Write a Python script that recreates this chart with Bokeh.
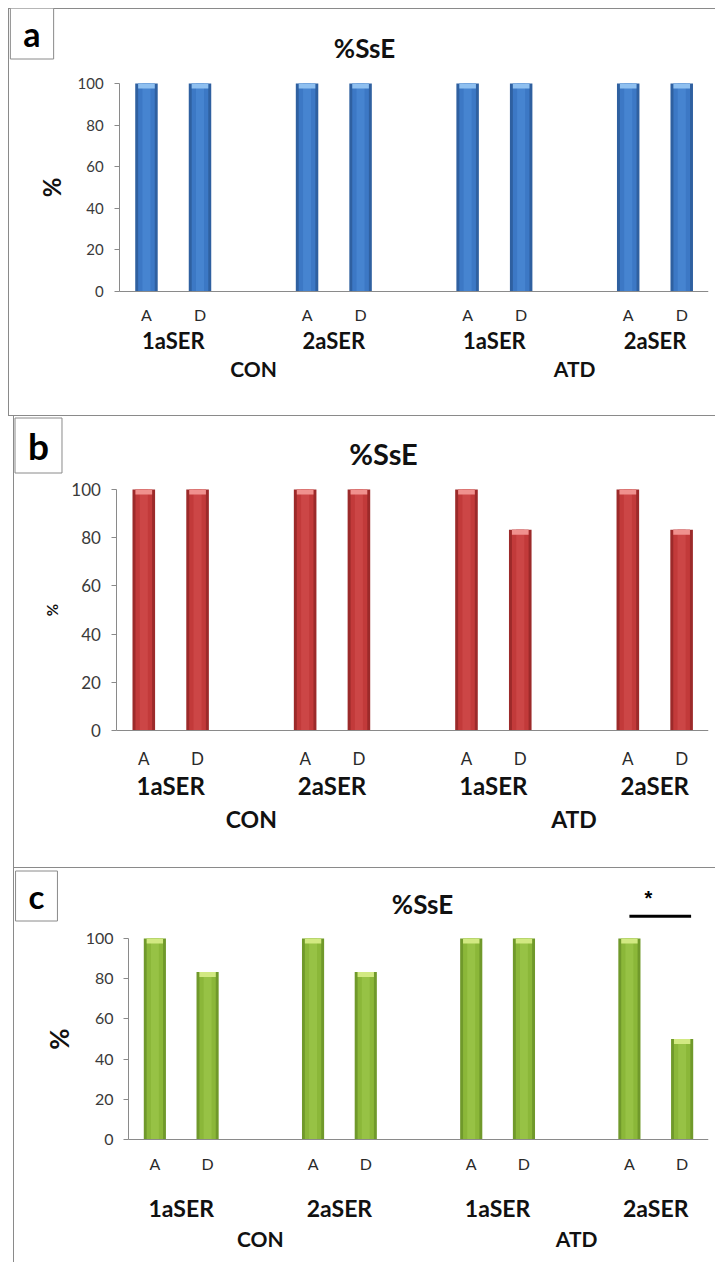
from bokeh.plotting import figure
from bokeh.models import Range1d, LinearAxis, FixedTicker, Label, ColumnDataSource
from bokeh.layouts import column
from bokeh.embed import file_html
from bokeh.resources import INLINE

# ---------------- data ----------------
treatments = ["CON", "ATD"]
receptors = ["1aSER", "2aSER"]
phases = ["A", "D"]
ssE_a = [100, 100, 100, 100, 100, 100, 100, 100]
ssE_b = [100, 100, 100, 100, 100, 83.3, 100, 83.3]
ssE_c = [100, 83.3, 100, 83.3, 100, 100, 100, 50]
y_ticks = [0, 20, 40, 60, 80, 100]
panel_letters = ["a", "b", "c"]
chart_title = "%SsE"
y_label = "%"
sig_pair = [("ATD", "2aSER", "A"), ("ATD", "2aSER", "D")]
sig_mark = "*"

FONT = "Lato"
GREY = "#8a8a8a"

# categorical layout: one slot per bar, one empty slot after every receptor group
factors, xpos = [], []
slot = 0.5
rec_pos, rec_lab, trt_pos, trt_lab = [], [], [], []
for t in treatments:
    t_members = []
    for r in receptors:
        r_members = []
        for ph in phases:
            factors.append((t, r, ph))
            xpos.append(slot)
            r_members.append(slot)
            slot += 1
        slot += 1
        rec_pos.append(sum(r_members) / len(r_members))
        rec_lab.append(r)
        t_members += r_members
    trt_pos.append((t_members[0] + t_members[-1]) / 2)
    trt_lab.append(t)
x_end = xpos[-1] + 0.5
phase_lab = [f[2] for f in factors]

blue = dict(edge="#2f60a0", body="#3c78c5", hl="#4684d0", cap="#8fc0f0")
red = dict(edge="#9c2a2a", body="#c23a3a", hl="#cc4646", cap="#f0918e")
green = dict(edge="#70992b", body="#8bb739", hl="#97c245", cap="#d2e982")


def label_axis(ticks, labels, standoff, size, bold, line=False):
    ax = LinearAxis(ticker=FixedTicker(ticks=ticks),
                    major_label_overrides={float(k): v for k, v in zip(ticks, labels)},
                    bounds=(0, x_end), fixed_location=0,
                    axis_line_color=GREY if line else None,
                    major_tick_line_color=None, minor_tick_line_color=None,
                    major_tick_out=0, major_tick_in=0,
                    major_label_standoff=standoff,
                    major_label_text_font=FONT,
                    major_label_text_font_size=size,
                    major_label_text_font_style="bold" if bold else "normal",
                    major_label_text_color="#111111" if bold else "#2a2a2a")
    return ax


def make_panel(vals, col, letter, g, sig=False):
    ppx = (g["width"] - g["axis_x"] - g["mr"]) / x_end   # pixels per slot
    ppu = g["ppu"]
    xr = Range1d(-g["axis_x"] / ppx, x_end)
    yr = Range1d(-g["below"] / ppu, g["y_end"])
    p = figure(x_range=xr, y_range=yr, width=g["width"], height=g["height"],
               output_backend="svg", toolbar_location=None, x_axis_location=None,
               min_border_left=0, min_border_right=g["mr"],
               min_border_top=0, min_border_bottom=0,
               background_fill_color=None, border_fill_color=None,
               outline_line_color=None, margin=g["margin"])
    p.styles = {"box-shadow": g["shadow"]}
    p.grid.visible = False

    cap_h = 5.0 / ppu
    src = ColumnDataSource(dict(x=xpos, top=vals, capb=[v - cap_h for v in vals]))
    p.vbar(x="x", top="top", width=0.42, fill_color=col["edge"], line_color=None, source=src)
    p.vbar(x="x", top="top", width=0.31, fill_color=col["body"], line_color=None, source=src)
    p.vbar(x="x", top="top", width=0.15, fill_color=col["hl"], line_color=None, source=src)
    p.vbar(x="x", top="top", bottom="capb", width=0.31, fill_color=col["cap"],
           line_color=None, source=src)

    # y axis, drawn at x = 0 inside the frame
    ya = p.yaxis[0]
    ya.fixed_location = 0
    ya.ticker = FixedTicker(ticks=y_ticks)
    ya.bounds = (0, 100)
    ya.axis_line_color = GREY
    ya.major_tick_line_color = GREY
    ya.major_tick_out = 5
    ya.major_tick_in = 0
    ya.minor_tick_line_color = None
    ya.major_label_text_font = FONT
    ya.major_label_text_font_size = g["tick_fs"]
    ya.major_label_text_color = "#3a3a3a"
    ya.major_label_standoff = g["tick_so"]
    ya.axis_label = y_label
    ya.axis_label_text_font = FONT
    ya.axis_label_text_font_style = "bold"
    ya.axis_label_text_font_size = g["ylab_fs"]
    ya.axis_label_text_color = "#111111"
    ya.axis_label_standoff = g["ylab_so"]

    # three rows of category labels, all hung from the y = 0 line
    p.add_layout(label_axis(xpos, phase_lab, g["s1"], g["ad_fs"], False, line=True), "below")
    p.add_layout(label_axis(rec_pos, rec_lab, g["s2"], g["sub_fs"], True), "below")
    p.add_layout(label_axis(trt_pos, trt_lab, g["s3"], g["grp_fs"], True), "below")

    # title
    p.add_layout(Label(x=g["tx"], y=g["ty"], x_units="screen", y_units="screen",
                       text=chart_title, text_font=FONT, text_font_style="bold",
                       text_font_size=g["title_fs"], text_color="#111111",
                       text_align="center", text_baseline="middle"))
    # panel letter box
    p.add_layout(Label(x=g["lx"], y=g["ly"], x_units="screen", y_units="screen",
                       text=letter, text_font=FONT, text_font_style="bold",
                       text_font_size=g["let_fs"], text_color="#000000",
                       text_align="center", text_baseline="middle",
                       border_line_color=GREY, border_line_width=1,
                       background_fill_color="white",
                       padding=g["let_pad"]))

    if sig:
        i0, i1 = factors.index(sig_pair[0]), factors.index(sig_pair[1])
        ssrc = ColumnDataSource(dict(x0=[xpos[i0]], x1=[xpos[i1] + 0.17], xm=[xpos[i0] + 0.36],
                                     y=[111], ys=[120], t=[sig_mark]))
        p.segment(x0="x0", y0="y", x1="x1", y1="y",
                  line_color="black", line_width=3, source=ssrc)
        p.text(x="xm", y="ys", text="t", source=ssrc,
               text_font_style="bold", text_font_size="20px",
               text_align="center", text_baseline="middle")
    return p


pad = dict(left=13, right=13, top=5, bottom=5)
ga = dict(width=707, height=408, axis_x=112, mr=2, below=125, y_end=136.06, ppu=2.08,
          margin=(0, 0, 0, 0),
          shadow="inset 1px 1px 0 #8a8a8a, inset 0 -1px 0 #8a8a8a",
          tick_fs="15px", tick_so=11, ylab_fs="24px", ylab_so=8,
          s1=13, s2=35, s3=64, ad_fs="16px", sub_fs="22px", grp_fs="21px",
          tx=356, ty=369, title_fs="26px",
          lx=23.5, ly=383, let_fs="34px", let_pad=pad)
gb = dict(width=702, height=452, axis_x=104, mr=3, below=138, y_end=130.3, ppu=2.41,
          margin=(0, 0, 0, 5),
          shadow="inset 1px 0 0 #8a8a8a, inset 0 -1px 0 #8a8a8a",
          tick_fs="17px", tick_so=11, ylab_fs="15px", ylab_so=7,
          s1=17, s2=40, s3=74, ad_fs="17px", sub_fs="24px", grp_fs="23px",
          tx=370, ty=415, title_fs="29px",
          lx=25, ly=423, let_fs="37px", let_pad=pad)
gc = dict(width=702, height=394, axis_x=115, mr=7, below=123, y_end=134.8, ppu=2.01,
          margin=(0, 0, 0, 5),
          shadow="inset 1px 0 0 #8a8a8a",
          tick_fs="16px", tick_so=10, ylab_fs="26px", ylab_so=8,
          s1=15, s2=55, s3=87, ad_fs="16px", sub_fs="23px", grp_fs="21px",
          tx=409, ty=359, title_fs="26px",
          lx=23, ly=366.5, let_fs="33px", let_pad=pad)

pa = make_panel(ssE_a, blue, panel_letters[0], ga)
pb = make_panel(ssE_b, red, panel_letters[1], gb)
pc = make_panel(ssE_c, green, panel_letters[2], gc, sig=True)

layout = column(pa, pb, pc, margin=(8, 0, 0, 8))
open("out.html", "w").write(file_html(layout, INLINE))
